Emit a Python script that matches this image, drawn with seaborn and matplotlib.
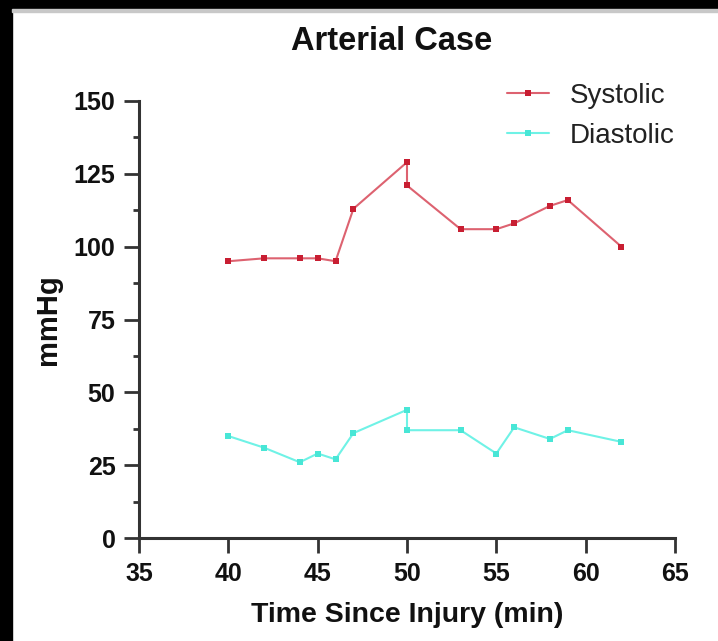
import matplotlib
matplotlib.use("Agg")
import matplotlib.pyplot as plt
from matplotlib.patches import Rectangle
from matplotlib.ticker import MultipleLocator
import seaborn as sns
import pandas as pd

# ---- data ----
time_systolic = [40, 42, 44, 45, 46, 47, 50, 50, 53, 55, 56, 58, 59, 62]
systolic = [95, 96, 96, 96, 95, 113, 129, 121, 106, 106, 108, 114, 116, 100]
time_diastolic = [40, 42, 44, 45, 46, 47, 50, 50, 53, 55, 56, 58, 59, 62]
diastolic = [35, 31, 26, 29, 27, 36, 44, 37, 37, 29, 38, 34, 37, 33]
x_ticks = [35, 40, 45, 50, 55, 60, 65]
y_ticks = [0, 25, 50, 75, 100, 125, 150]

df_sys = pd.DataFrame({"t": time_systolic, "v": systolic})
df_dia = pd.DataFrame({"t": time_diastolic, "v": diastolic})

sns.set_theme(style="white")
plt.rcParams["font.family"] = ["Liberation Sans", "DejaVu Sans"]

W, H = 718, 641
fig = plt.figure(figsize=(W / 100, H / 100), dpi=100)
fig.patch.set_facecolor("white")

# screenshot frame
fig.patches.append(Rectangle((0, 0), 12 / W, 1, transform=fig.transFigure, color="black", zorder=0))
fig.patches.append(Rectangle((0, 1 - 9 / H), 1, 9 / H, transform=fig.transFigure, color="black", zorder=0))
fig.patches.append(Rectangle((12 / W, 1 - 12 / H), 1, 3 / H, transform=fig.transFigure, color="#c8c8c8", zorder=0))

AX_L, AX_R, AX_T, AX_B = 139, 675, 101, 538
ax = fig.add_axes([AX_L / W, 1 - AX_B / H, (AX_R - AX_L) / W, (AX_B - AX_T) / H])

sns.lineplot(data=df_sys, x="t", y="v", ax=ax, sort=False, estimator=None,
             color="#dd6270", linewidth=1.5, marker="s", markersize=4.2,
             markerfacecolor="#c81e32", markeredgecolor="#c81e32", markeredgewidth=0,
             label="Systolic")
sns.lineplot(data=df_dia, x="t", y="v", ax=ax, sort=False, estimator=None,
             color="#6ff2e6", linewidth=1.5, marker="s", markersize=4.2,
             markerfacecolor="#48e6d6", markeredgecolor="#48e6d6", markeredgewidth=0,
             label="Diastolic")

ax.set_xlim(35, 65)
ax.set_ylim(0, 150)
ax.set_xticks(x_ticks)
ax.set_yticks(y_ticks)
ax.yaxis.set_minor_locator(MultipleLocator(12.5))

for s in ["top", "right"]:
    ax.spines[s].set_visible(False)
for s in ["left", "bottom"]:
    ax.spines[s].set_color("#333333")
    ax.spines[s].set_linewidth(2.2)

ax.tick_params(axis="both", which="major", direction="out", length=11, width=2,
               color="#333333", labelsize=18, labelcolor="#111111", pad=6,
               bottom=True, left=True)
ax.tick_params(axis="y", which="minor", direction="out", length=4.5, width=2,
               color="#333333", left=True)
ax.tick_params(axis="x", which="minor", bottom=False)
for lab in ax.get_xticklabels() + ax.get_yticklabels():
    lab.set_fontweight("bold")

ax.set_xlabel("Time Since Injury (min)", fontsize=20.5, fontweight="bold", color="#111111")
ax.set_ylabel("mmHg", fontsize=21, fontweight="bold", color="#111111")
ax.xaxis.set_label_coords(0.5, -(602 - AX_B) / (AX_B - AX_T))
ax.yaxis.set_label_coords(-(AX_L - 62) / (AX_R - AX_L), (AX_B - 320) / (AX_B - AX_T))

fig.text(392 / W, 1 - 42 / H, "Arterial Case", ha="center", va="center",
         fontsize=23.5, fontweight="bold", color="#111111")

leg = ax.legend(loc="upper left", bbox_to_anchor=(507 / W, 1 - 83 / H),
                bbox_transform=fig.transFigure, frameon=False, fontsize=20,
                handlelength=1.5, handletextpad=0.75, labelspacing=0.49,
                borderpad=0, borderaxespad=0)
for t in leg.get_texts():
    t.set_color("#222222")

fig.savefig("out.png", dpi=100, facecolor=fig.get_facecolor())
